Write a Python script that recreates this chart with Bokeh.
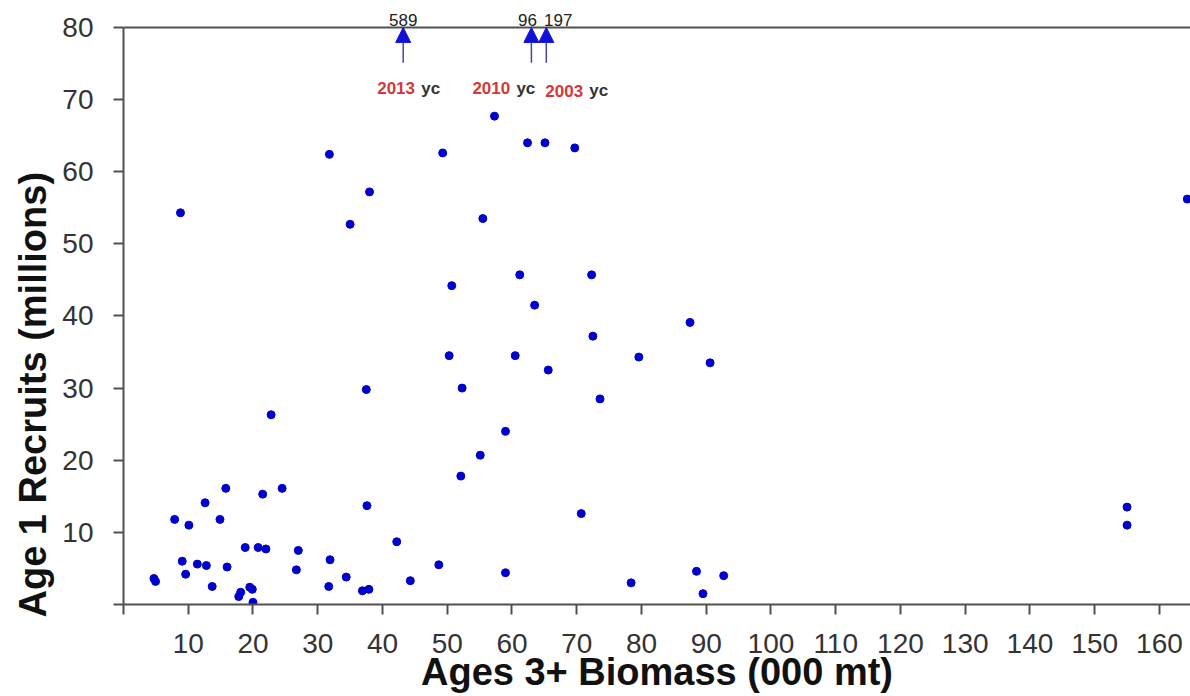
from bokeh.plotting import figure
from bokeh.models import FixedTicker, Span, Label, Arrow, NormalHead, ColumnDataSource, Title
from bokeh.embed import file_html
from bokeh.resources import INLINE

# ---- data ----
biomass = [4.7, 4.95, 7.9, 10.1, 9.07, 9.6, 11.4, 12.8, 12.6, 13.7, 14.9, 15.8, 16.0,
           17.8, 18.1, 18.8, 19.5, 19.9, 20.0, 20.8, 22.0, 21.5, 22.8, 24.5, 26.7, 27.0,
           31.7, 31.9, 34.4, 36.9, 37.9, 37.6, 42.2, 44.3, 48.7, 52.1, 55.1, 59.0, 59.0,
           70.7, 73.6, 78.4, 88.5, 89.5, 92.7, 155.0, 155.0, 31.8, 38.0, 35.0, 8.8, 37.5,
           57.3, 49.3, 62.4, 65.1, 69.7, 55.5, 50.7, 61.2, 72.3, 63.5, 87.5, 72.5, 50.3,
           60.5, 79.6, 65.6, 52.3, 90.6, 164.3]
recruits = [3.6, 3.2, 11.8, 11.0, 6.0, 4.2, 5.6, 5.4, 14.1, 2.5, 11.8, 16.1, 5.2,
            1.1, 1.7, 7.9, 2.4, 2.1, 0.3, 7.9, 7.7, 15.3, 26.3, 16.1, 4.8, 7.5,
            2.5, 6.2, 3.8, 1.9, 2.1, 13.7, 8.7, 3.3, 5.5, 17.8, 20.7, 24.0, 4.4,
            12.6, 28.5, 3.0, 4.6, 1.5, 4.0, 13.5, 11.0, 62.4, 57.2, 52.7, 54.3, 29.8,
            67.7, 62.6, 64.0, 64.0, 63.3, 53.5, 44.2, 45.7, 45.7, 41.5, 39.1, 37.2, 34.5,
            34.5, 34.3, 32.5, 30.0, 33.5, 56.2]

# off-scale year classes (recruits above the 80 axis limit)
off_biomass = [43.2, 63.0, 65.3]
off_recruits = [589, 96, 197]
off_years = ["2013", "2010", "2003"]

x_ticks = [0, 10, 20, 30, 40, 50, 60, 70, 80, 90, 100, 110, 120, 130, 140, 150, 160]
y_ticks = [0, 10, 20, 30, 40, 50, 60, 70, 80]

x_title = "Ages 3+ Biomass (000 mt)"
y_title = "Age 1 Recruits (millions)"

FONT = "Liberation Sans"
AXIS_COLOR = "#505050"

p = figure(width=1190, height=696, x_range=(0, 164.8), y_range=(0, 83.73),
           output_backend="svg", toolbar_location=None,
           min_border_left=123, min_border_right=0, min_border_top=0, min_border_bottom=92)
p.outline_line_color = None
p.xgrid.visible = False
p.ygrid.visible = False
p.background_fill_color = "white"
p.border_fill_color = "white"

for ax, ticks in ((p.xaxis[0], x_ticks), (p.yaxis[0], y_ticks)):
    ax.ticker = FixedTicker(ticks=ticks)
    ax.major_label_overrides = {0: ""}
    ax.minor_tick_line_color = None
    ax.major_tick_in = 0
    ax.major_tick_out = 10
    ax.axis_line_color = AXIS_COLOR
    ax.axis_line_width = 2
    ax.major_tick_line_color = AXIS_COLOR
    ax.major_tick_line_width = 2
    ax.major_label_text_font = FONT
    ax.major_label_text_font_size = "28px"
    ax.major_label_text_color = "#333333"

p.xaxis[0].major_label_standoff = 19
p.yaxis[0].major_label_standoff = 20
p.yaxis[0].bounds = (0, 80)

p.xaxis[0].axis_label = x_title
p.xaxis[0].axis_label_text_font = FONT
p.xaxis[0].axis_label_text_font_size = "38px"
p.xaxis[0].axis_label_text_font_style = "bold"
p.xaxis[0].axis_label_text_color = "#111111"
p.xaxis[0].axis_label_standoff = -5

ytitle = Title(text=y_title, align="left", offset=-13, vertical_align="bottom", standoff=12,
               text_font=FONT, text_font_size="38px", text_font_style="bold",
               text_color="#111111")
p.add_layout(ytitle, "left")

# top border line at y = 80
p.add_layout(Span(location=80, dimension="width", line_color=AXIS_COLOR, line_width=2))

src = ColumnDataSource(dict(x=biomass, y=recruits))
p.scatter("x", "y", source=src, size=8, fill_color="#0000CC", line_color="#0000CC")

# off-scale arrows and labels
num_dx = [0, -4, 12]
year_dx = [-26, -59, -1]
year_y = [71.6, 71.6, 71.2]
for bx, val, yr, ndx, ydx, yy in zip(off_biomass, off_recruits, off_years, num_dx, year_dx, year_y):
    p.add_layout(Arrow(end=NormalHead(size=15, fill_color="#1010D8", line_color="#1010D8"),
                       x_start=bx, y_start=75.1, x_end=bx, y_end=80,
                       line_color="#4545A8", line_width=1.5))
    p.add_layout(Label(x=bx, y=81.0, x_offset=ndx, text=str(val), text_align="center",
                       text_baseline="alphabetic", text_font=FONT, text_font_size="17px",
                       text_color="#222222"))
    p.add_layout(Label(x=bx, y=yy, x_offset=ydx, text=yr, text_align="left",
                       text_baseline="alphabetic", text_font=FONT, text_font_size="17px",
                       text_font_style="bold", text_color="#D43838"))
    p.add_layout(Label(x=bx, y=yy, x_offset=ydx + 44, text="yc", text_align="left",
                       text_baseline="alphabetic", text_font=FONT, text_font_size="17px",
                       text_font_style="bold", text_color="#333333"))

open("out.html", "w").write(file_html(p, INLINE))
